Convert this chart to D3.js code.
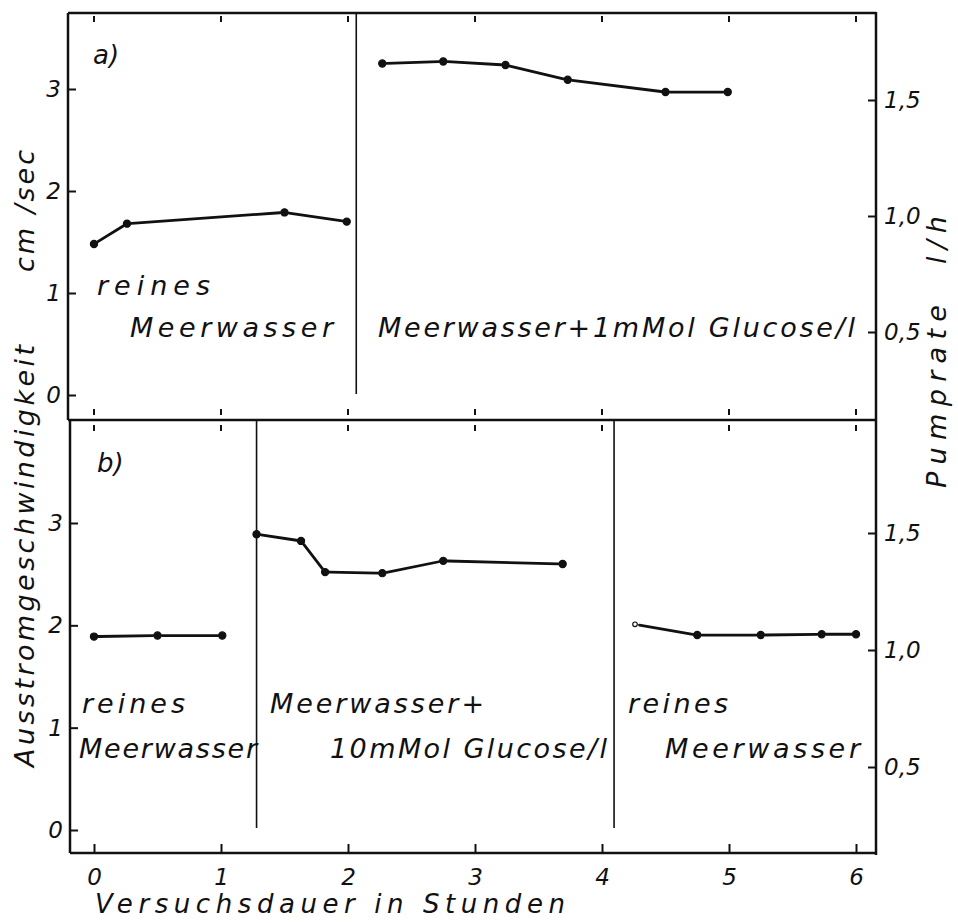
<!DOCTYPE html>
<html>
<head>
<meta charset="utf-8">
<script src="https://cdn.jsdelivr.net/npm/d3@7"></script>
<style>
  body { margin: 0; background: #fff; }
  svg text { font-family: "DejaVu Sans", "Open Sans", sans-serif; font-style: italic; fill: #111; }
</style>
</head>
<body>
<svg id="chart" width="958" height="923"></svg>
<script>
// hours on the x axis
var hours = [0, 1, 2, 3, 4, 5, 6];
var leftTicks = [0, 1, 2, 3];
var rightTicks = [0.5, 1.0, 1.5];
var rightTickLabels = ["0,5", "1,0", "1,5"];

// a) pure seawater, then seawater + 1 mMol glucose/l
var aSeaTime = [0, 0.26, 1.5, 1.99];
var aSeaValue = [1.48, 1.68, 1.79, 1.70];
var aGlucTime = [2.27, 2.75, 3.24, 3.73, 4.5, 4.99];
var aGlucValue = [3.25, 3.27, 3.235, 3.09, 2.97, 2.97];
var aSwitch = [2.065];

// b) seawater, seawater + 10 mMol glucose/l, seawater again
var bSeaTime = [0, 0.5, 1.01];
var bSeaValue = [1.89, 1.90, 1.90];
var bGlucTime = [1.28, 1.63, 1.82, 2.27, 2.75, 3.69];
var bGlucValue = [2.89, 2.825, 2.52, 2.51, 2.63, 2.60];
var bSea2Time = [4.26, 4.75, 5.25, 5.73, 6.0];
var bSea2Value = [2.01, 1.905, 1.905, 1.913, 1.913];
var bSwitch = [1.28, 4.095];

var svg = d3.select("#chart");

var x = d3.scaleLinear().domain([0, 6]).range([94, 856]);

var panels = [
  {
    name: "a)", top: 13, bottom: 420, left: 68,
    y: d3.scaleLinear().domain([0, 3]).range([395, 89]),
    yr: d3.scaleLinear().domain([0.5, 1.5]).range([332, 100]),
    series: [
      { t: aSeaTime, v: aSeaValue },
      { t: aGlucTime, v: aGlucValue }
    ],
    open: [],
    switches: aSwitch,
    switchEnd: 394,
    labels: [
      { s: "reines", x: 97, y: 295, w: 113 },
      { s: "Meerwasser", x: 130, y: 337, w: 203 },
      { s: "Meerwasser+1mMol Glucose/l", x: 378, y: 337, w: 477 }
    ],
    nameX: 93, nameY: 64
  },
  {
    name: "b)", top: 420, bottom: 853, left: 70,
    y: d3.scaleLinear().domain([0, 3]).range([830, 523]),
    yr: d3.scaleLinear().domain([0.5, 1.5]).range([767, 533]),
    series: [
      { t: bSeaTime, v: bSeaValue },
      { t: bGlucTime, v: bGlucValue },
      { t: bSea2Time, v: bSea2Value }
    ],
    open: [[2, 0]],
    switches: bSwitch,
    switchEnd: 828,
    labels: [
      { s: "reines", x: 82, y: 713, w: 103 },
      { s: "Meerwasser", x: 79, y: 758, w: 178 },
      { s: "Meerwasser+", x: 270, y: 713, w: 214 },
      { s: "10mMol Glucose/l", x: 330, y: 758, w: 277 },
      { s: "reines", x: 628, y: 713, w: 100 },
      { s: "Meerwasser", x: 665, y: 758, w: 195 }
    ],
    nameX: 97, nameY: 472
  }
];

var right = 876;

// frame
var frame = svg.append("g").attr("stroke", "#111").attr("fill", "none");
frame.append("line").attr("x1", 68).attr("x2", right).attr("y1", 13).attr("y2", 13).attr("stroke-width", 2.5);
frame.append("line").attr("x1", 68).attr("x2", right).attr("y1", 420).attr("y2", 420).attr("stroke-width", 2.5);
frame.append("line").attr("x1", 70).attr("x2", right).attr("y1", 853).attr("y2", 853).attr("stroke-width", 2.5);
frame.append("line").attr("x1", right).attr("x2", right).attr("y1", 12).attr("y2", 855).attr("stroke-width", 2.5);
panels.forEach(function(p) {
  frame.append("line").attr("x1", p.left).attr("x2", p.left)
    .attr("y1", p.top).attr("y2", p.bottom).attr("stroke-width", 2.5);
});

// small hour marks along the top and the middle line
var marks = svg.append("g").attr("stroke", "#111").attr("stroke-width", 2);
hours.forEach(function(h) {
  marks.append("line").attr("x1", x(h)).attr("x2", x(h)).attr("y1", 16).attr("y2", 22);
  marks.append("line").attr("x1", x(h)).attr("x2", x(h)).attr("y1", 409).attr("y2", 415);
  marks.append("line").attr("x1", x(h)).attr("x2", x(h)).attr("y1", 425).attr("y2", 431);
});

// bottom axis
var xAxis = svg.append("g")
  .attr("transform", "translate(0,853)")
  .call(d3.axisBottom(x).tickValues(hours).tickFormat(d3.format("d"))
    .tickSizeInner(-9).tickSizeOuter(0).tickPadding(16));
xAxis.select(".domain").remove();
xAxis.selectAll(".tick line").attr("stroke", "#111").attr("stroke-width", 2);
xAxis.selectAll(".tick text").attr("font-size", 23).attr("font-family", null).attr("fill", null);

svg.append("text")
  .attr("x", 95).attr("y", 913)
  .attr("font-size", 26)
  .attr("textLength", 470).attr("lengthAdjust", "spacing")
  .text("Versuchsdauer in Stunden");

panels.forEach(function(p) {
  var g = svg.append("g");

  var yl = g.append("g")
    .attr("transform", "translate(" + p.left + ",0)")
    .call(d3.axisLeft(p.y).tickValues(leftTicks).tickFormat(d3.format("d"))
      .tickSizeInner(-8).tickSizeOuter(0).tickPadding(7));
  yl.select(".domain").remove();
  yl.selectAll(".tick line").attr("stroke", "#111").attr("stroke-width", 2);
  yl.selectAll(".tick text").attr("font-size", 23).attr("font-family", null).attr("fill", null);

  var yr = g.append("g")
    .attr("transform", "translate(" + right + ",0)")
    .call(d3.axisRight(p.yr).tickValues(rightTicks).tickSizeInner(-8).tickSizeOuter(0).tickPadding(8)
      .tickFormat(function(d, i) { return rightTickLabels[i]; }));
  yr.select(".domain").remove();
  yr.selectAll(".tick line").attr("stroke", "#111").attr("stroke-width", 2);
  yr.selectAll(".tick text").attr("font-size", 23).attr("font-family", null).attr("fill", null);

  // change of medium
  p.switches.forEach(function(t) {
    g.append("line")
      .attr("x1", x(t)).attr("x2", x(t))
      .attr("y1", p.top).attr("y2", p.switchEnd)
      .attr("stroke", "#111").attr("stroke-width", 1.6);
  });

  // series: segments with a small gap at each dot
  var gap = 4.5;
  p.series.forEach(function(s, si) {
    var pts = s.t.map(function(t, i) { return [x(t), p.y(s.v[i])]; });
    d3.pairs(pts).forEach(function(pair) {
      var a = pair[0], b = pair[1];
      var dx = b[0] - a[0], dy = b[1] - a[1];
      var len = Math.sqrt(dx * dx + dy * dy);
      var ux = dx / len, uy = dy / len;
      g.append("line")
        .attr("x1", a[0] + ux * gap).attr("y1", a[1] + uy * gap)
        .attr("x2", b[0] - ux * gap).attr("y2", b[1] - uy * gap)
        .attr("stroke", "#111").attr("stroke-width", 2.8).attr("stroke-linecap", "round");
    });
    g.selectAll(null)
      .data(pts)
      .enter()
      .append("circle")
      .attr("cx", function(d) { return d[0]; })
      .attr("cy", function(d) { return d[1]; })
      .attr("r", function(d, i) {
        var isOpen = p.open.some(function(o) { return o[0] == si && o[1] == i; });
        return isOpen ? 2.3 : 3.6;
      })
      .attr("fill", function(d, i) {
        var isOpen = p.open.some(function(o) { return o[0] == si && o[1] == i; });
        return isOpen ? "#fff" : "#111";
      })
      .attr("stroke", "#111")
      .attr("stroke-width", 1.2);
  });

  g.append("text")
    .attr("x", p.nameX).attr("y", p.nameY)
    .attr("font-size", 26)
    .text(p.name);

  g.selectAll(".lbl")
    .data(p.labels)
    .enter()
    .append("text")
    .attr("class", "lbl")
    .attr("x", function(d) { return d.x; })
    .attr("y", function(d) { return d.y; })
    .attr("font-size", 27)
    .attr("textLength", function(d) { return d.w; })
    .attr("lengthAdjust", "spacing")
    .text(function(d) { return d.s; });
});

// axis titles, rotated
svg.append("text")
  .attr("transform", "translate(34,767) rotate(-90)")
  .attr("font-size", 27)
  .attr("textLength", 422).attr("lengthAdjust", "spacing")
  .text("Ausstromgeschwindigkeit");
svg.append("text")
  .attr("transform", "translate(34,272) rotate(-90)")
  .attr("font-size", 27)
  .attr("textLength", 122).attr("lengthAdjust", "spacing")
  .text("cm /sec");
svg.append("text")
  .attr("transform", "translate(946,488) rotate(-90)")
  .attr("font-size", 27)
  .attr("textLength", 183).attr("lengthAdjust", "spacing")
  .text("Pumprate");
svg.append("text")
  .attr("transform", "translate(946,264) rotate(-90)")
  .attr("font-size", 27)
  .attr("textLength", 48).attr("lengthAdjust", "spacing")
  .text("l/h");
</script>
</body>
</html>
